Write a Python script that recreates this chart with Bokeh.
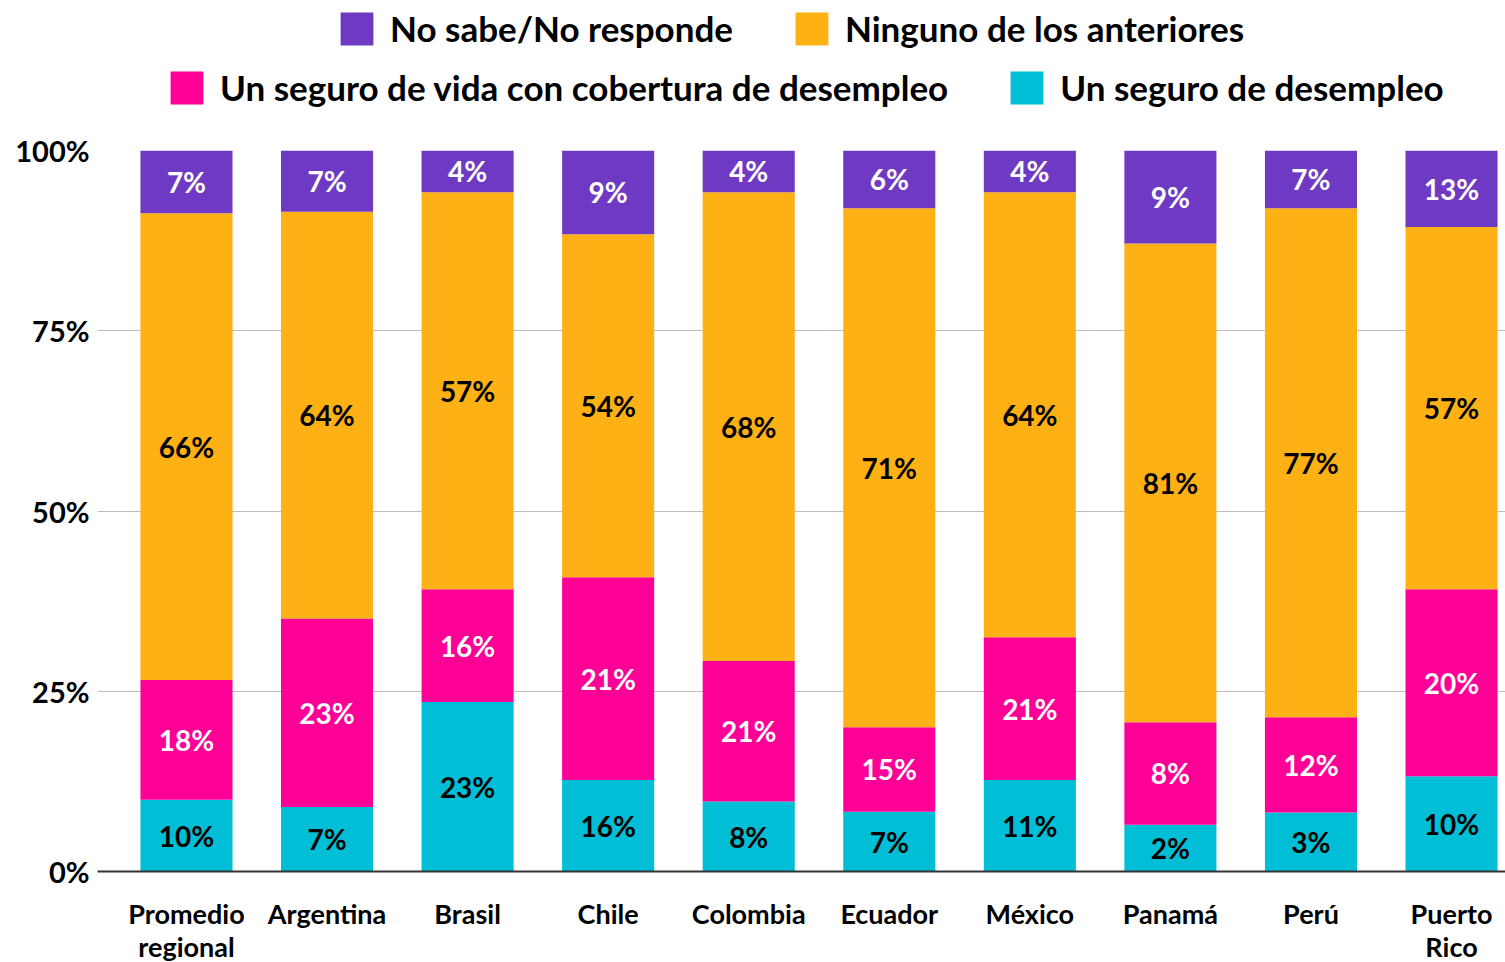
from bokeh.plotting import figure
from bokeh.layouts import column
from bokeh.models import Range1d, FixedTicker, Legend, LegendItem, ColumnDataSource
from bokeh.core.properties import value
from bokeh.embed import file_html
from bokeh.resources import INLINE

# ---------------- data ----------------
categories = ["Promedio\nregional", "Argentina", "Brasil", "Chile", "Colombia",
              "Ecuador", "México", "Panamá", "Perú", "Puerto\nRico"]

series_names = ["Un seguro de desempleo",
                "Un seguro de vida con cobertura de desempleo",
                "Ninguno de los anteriores",
                "No sabe/No responde"]

# segment heights (%) as drawn
desempleo = [9.95, 8.95, 23.5, 12.7, 9.7, 8.3, 12.7, 6.5, 8.2, 13.2]
vida      = [16.6, 26.15, 15.65, 28.1, 19.5, 11.7, 19.8, 14.2, 13.2, 25.95]
ninguno   = [64.75, 56.4, 55.05, 47.6, 65.0, 72.0, 61.7, 66.4, 70.6, 50.25]
nsnr      = [8.7, 8.5, 5.8, 11.6, 5.8, 8.0, 5.8, 12.9, 8.0, 10.6]

# printed labels (%)
desempleo_lbl = [10, 7, 23, 16, 8, 7, 11, 2, 3, 10]
vida_lbl      = [18, 23, 16, 21, 21, 15, 21, 8, 12, 20]
ninguno_lbl   = [66, 64, 57, 54, 68, 71, 64, 81, 77, 57]
nsnr_lbl      = [7, 7, 4, 9, 4, 6, 4, 9, 7, 13]

y_ticks = [0, 25, 50, 75, 100]
y_tick_labels = ["0%", "25%", "50%", "75%", "100%"]

colors = ["#00bed5", "#fe0096", "#fdb114", "#6f3ac3"]
label_colors = ["#000000", "#ffffff", "#000000", "#ffffff"]

FONT = "Lato"

xs = list(range(len(categories)))
keys = ["desempleo", "vida", "ninguno", "nsnr"]
source = ColumnDataSource(dict(x=xs, desempleo=desempleo, vida=vida,
                               ninguno=ninguno, nsnr=nsnr))

# ---------------- legend figure ----------------
lf = figure(width=1505, height=130, output_backend="svg", toolbar_location=None,
            x_range=Range1d(0, 1), y_range=Range1d(200, 300),
            x_axis_location=None, y_axis_location=None, min_border=0)
lf.outline_line_color = None
lf.xgrid.visible = False
lf.ygrid.visible = False
# legend handles (their bars lie outside this figure's visible range)
handles = [lf.vbar(x="x", top=k, width=0.5, fill_color=c, line_color=None, source=source)
           for k, c in zip(keys, colors)]


def make_legend(items, loc):
    return Legend(items=items, orientation="horizontal", location=loc,
                  glyph_width=41, glyph_height=41, label_height=41,
                  label_standoff=13, spacing=58,
                  padding=0, margin=0, border_line_alpha=0, background_fill_alpha=0,
                  label_text_font=FONT, label_text_font_style="bold",
                  label_text_font_size="35px", label_text_color="#000000")


leg1 = make_legend([LegendItem(label=value(series_names[3]), renderers=[handles[3]]),
                    LegendItem(label=value(series_names[2]), renderers=[handles[2]])],
                   (239, 81))
leg2 = make_legend([LegendItem(label=value(series_names[1]), renderers=[handles[1]]),
                    LegendItem(label=value(series_names[0]), renderers=[handles[0]])],
                   (69, 22))
lf.add_layout(leg1)
lf.add_layout(leg2)

# ---------------- chart ----------------
p = figure(width=1505, height=830, output_backend="svg", toolbar_location=None,
           x_range=Range1d(-0.633, 9.384), y_range=Range1d(0, 100),
           min_border_left=97, min_border_right=0, min_border_top=20,
           min_border_bottom=80)
p.frame_width = 1408
p.frame_height = 721
p.outline_line_color = None
p.background_fill_color = "white"
p.border_fill_color = "white"

rs = p.vbar_stack(keys, x="x", width=0.655, color=colors, line_width=0,
                  line_alpha=0, source=source)

# value labels centred in segments
vals = [desempleo, vida, ninguno, nsnr]
lbls = [desempleo_lbl, vida_lbl, ninguno_lbl, nsnr_lbl]
bottom = [0.0] * len(xs)
for vs, ls, tc in zip(vals, lbls, label_colors):
    ys = [b + v / 2 for b, v in zip(bottom, vs)]
    p.text(x=xs, y=ys, text=[f"{l}%" for l in ls], text_align="center",
           text_baseline="middle", text_font=value(FONT), text_font_style="bold",
           text_font_size="28px", text_color=tc)
    bottom = [b + v for b, v in zip(bottom, vs)]

# axes
p.xaxis.ticker = FixedTicker(ticks=xs)
p.xaxis.major_label_overrides = {i: c for i, c in enumerate(categories)}
p.xaxis.major_label_text_font = FONT
p.xaxis.major_label_text_font_style = "bold"
p.xaxis.major_label_text_font_size = "27px"
p.xaxis.major_label_text_line_height = 1.0
p.xaxis.major_label_text_color = "#000000"
p.xaxis.major_label_standoff = 19
p.xaxis.major_tick_line_color = None
p.xaxis.minor_tick_line_color = None
p.xaxis.axis_line_color = "#333333"
p.xaxis.axis_line_width = 2

p.yaxis.ticker = FixedTicker(ticks=y_ticks)
p.yaxis.major_label_overrides = {t: l for t, l in zip(y_ticks, y_tick_labels)}
p.yaxis.major_label_text_font = FONT
p.yaxis.major_label_text_font_style = "bold"
p.yaxis.major_label_text_font_size = "29px"
p.yaxis.major_label_text_color = "#000000"
p.yaxis.major_label_standoff = 2
p.yaxis.axis_line_color = None
p.yaxis.major_tick_line_color = None
p.yaxis.minor_tick_line_color = None

p.xgrid.visible = False
p.ygrid.ticker = FixedTicker(ticks=y_ticks)
p.ygrid.grid_line_color = "#bdbdbd"
p.ygrid.grid_line_width = 1

layout = column(lf, p, spacing=0)
open("out.html", "w").write(file_html(layout, INLINE))
